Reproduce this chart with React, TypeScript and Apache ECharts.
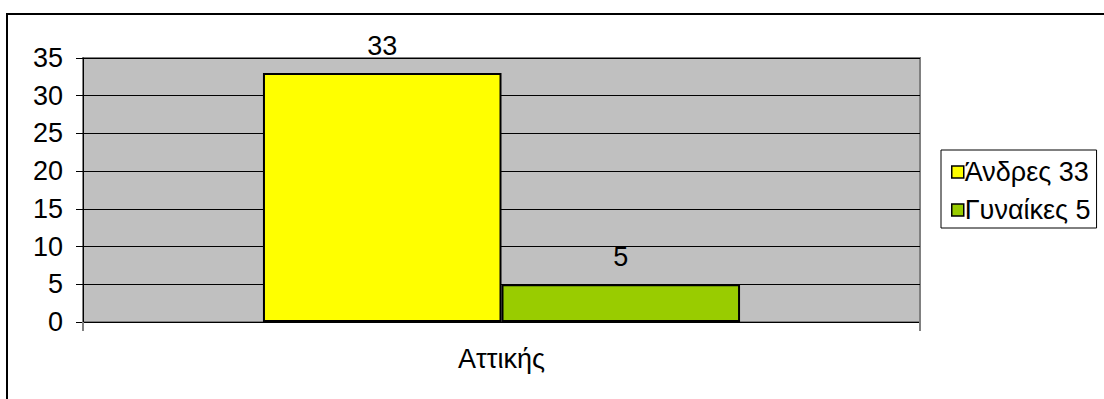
import React, { useEffect, useRef } from "react";
import * as echarts from "echarts";

const categories = ["Αττικής"];
const seriesNames = ["Άνδρες 33", "Γυναίκες 5"];
const menValues = [33];
const womenValues = [5];
const seriesColors = ["#FFFF00", "#99CC00"];
const yMin = 0;
const yMax = 35;
const yInterval = 5;

export default function App() {
  const ref = useRef<HTMLDivElement>(null);
  useEffect(() => {
    document.body.style.margin = "0";
    if (!ref.current) return;
    const chart = echarts.init(ref.current, null, { renderer: "svg" });
    const font = "Liberation Sans, Arial, sans-serif";
    const fs = 27;
    const labelCfg = {
      show: true,
      position: "top" as const,
      distance: 14,
      fontSize: fs,
      color: "#000",
      fontFamily: font,
    };
    chart.setOption({
      animation: false,
      backgroundColor: "#fff",
      textStyle: { fontFamily: font },
      graphic: [
        {
          type: "rect",
          shape: { x: 7, y: 14, width: 1200, height: 500 },
          style: { fill: "none", stroke: "#000", lineWidth: 2 },
          z: 100,
          silent: true,
        },
      ],
      grid: {
        left: 83,
        right: 184,
        top: 58,
        bottom: 77,
        show: true,
        backgroundColor: "#C0C0C0",
        borderColor: "#808080",
        borderWidth: 2,
      },
      legend: {
        orient: "vertical",
        left: 941,
        top: 150,
        padding: [8, 6, 4, 10],
        itemGap: 10,
        itemWidth: 12,
        itemHeight: 12,
        icon: "rect",
        borderColor: "#000",
        borderWidth: 1,
        backgroundColor: "#fff",
        textStyle: { fontSize: fs, color: "#000", fontFamily: font, lineHeight: 28, padding: [0, 0, 0, -4] },
        data: seriesNames.map((n) => ({
          name: n,
          itemStyle: { borderColor: "#000", borderWidth: 1.5 },
        })),
      },
      xAxis: {
        type: "category",
        data: categories,
        axisLine: { show: true, lineStyle: { color: "#000", width: 1 } },
        axisTick: { show: true, length: 9, lineStyle: { color: "#808080", width: 2 } },
        axisLabel: { fontSize: fs, color: "#000", margin: 23, fontFamily: font },
      },
      yAxis: {
        type: "value",
        min: yMin,
        max: yMax,
        interval: yInterval,
        axisLine: { show: true, lineStyle: { color: "#000", width: 1 } },
        axisTick: { show: true, length: 7, lineStyle: { color: "#000" } },
        axisLabel: { fontSize: fs, color: "#000", margin: 20, fontFamily: font },
        splitLine: { show: true, lineStyle: { color: "#000", width: 1 } },
      },
      series: [
        {
          name: seriesNames[0],
          type: "bar",
          data: menValues,
          barGap: "0%",
          barCategoryGap: "43%",
          itemStyle: { color: seriesColors[0], borderColor: "#000", borderWidth: 2 },
          label: labelCfg,
        },
        {
          name: seriesNames[1],
          type: "bar",
          data: womenValues,
          barGap: "0%",
          barCategoryGap: "43%",
          itemStyle: { color: seriesColors[1], borderColor: "#000", borderWidth: 2 },
          label: labelCfg,
        },
      ],
    });
    return () => chart.dispose();
  }, []);
  return <div ref={ref} style={{ width: 1104, height: 399 }} />;
}
